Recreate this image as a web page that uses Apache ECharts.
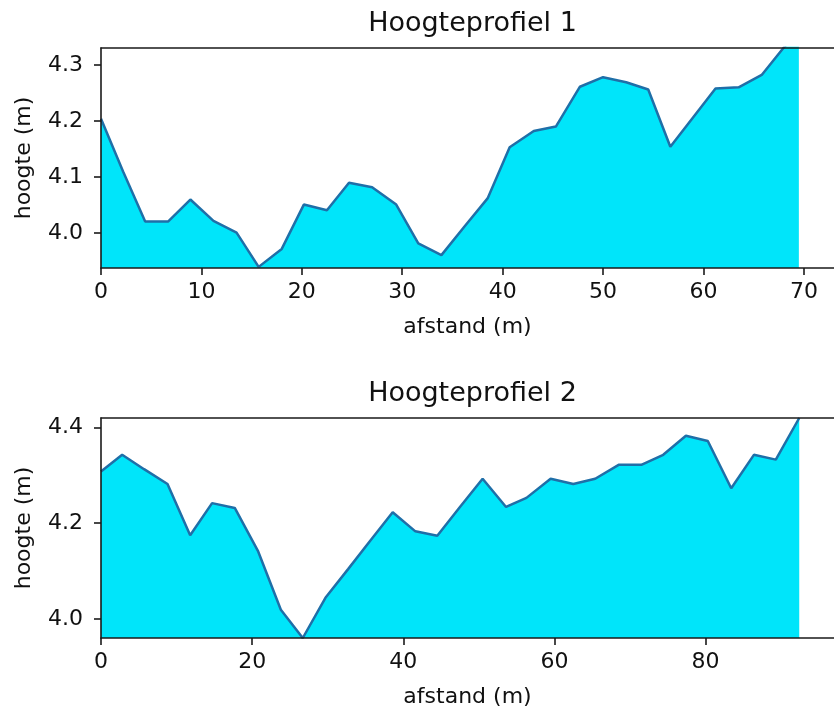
<!DOCTYPE html>
<html>
<head>
<meta charset="utf-8">
<title>Hoogteprofielen</title>
<script src="https://cdn.jsdelivr.net/npm/echarts@6/dist/echarts.min.js"></script>
<style>
  html, body { margin: 0; padding: 0; background: #fff; }
  #chart { width: 834px; height: 711px; }
</style>
</head>
<body>
<div id="chart"></div>
<script>
// profiel 1
var afstand1 = [0, 2.2, 4.4, 6.7, 8.9, 11.2, 13.5, 15.7, 18.0, 20.2, 22.5, 24.7, 27.0, 29.4, 31.6, 33.9,
  36.2, 38.5, 40.7, 43.1, 45.3, 47.7, 50.0, 52.3, 54.5, 56.7, 59.0, 61.2, 63.5, 65.8, 68.0, 69.5];
var hoogte1 = [4.204, 4.11, 4.021, 4.021, 4.06, 4.022, 4.001, 3.94, 3.972, 4.051, 4.041, 4.09, 4.082, 4.051, 3.982, 3.961,
  4.012, 4.062, 4.153, 4.182, 4.19, 4.261, 4.278, 4.269, 4.256, 4.154, 4.207, 4.258, 4.26, 4.282, 4.331, 4.36];

// profiel 2
var afstand2 = [0, 2.8, 5.7, 8.8, 11.8, 14.7, 17.7, 20.8, 23.8, 26.7, 29.7, 32.7, 35.6, 38.6, 41.6, 44.5,
  47.5, 50.5, 53.6, 56.3, 59.5, 62.5, 65.4, 68.5, 71.5, 74.4, 77.4, 80.3, 83.4, 86.4, 89.3, 92.4];
var hoogte2 = [4.308, 4.343, 4.313, 4.282, 4.175, 4.242, 4.232, 4.141, 4.019, 3.96, 4.044, 4.104, 4.163, 4.223, 4.183, 4.174,
  4.234, 4.293, 4.234, 4.253, 4.293, 4.282, 4.293, 4.322, 4.322, 4.343, 4.383, 4.372, 4.273, 4.343, 4.333, 4.42];

// tick labels
var xTicks1 = [0, 10, 20, 30, 40, 50, 60, 70];
var yTicks1 = [4.0, 4.1, 4.2, 4.3];
var xTicks2 = [0, 20, 40, 60, 80];
var yTicks2 = [4.0, 4.2, 4.4];

var titles = ['Hoogteprofiel 1', 'Hoogteprofiel 2'];

function pairs(xs, ys) {
  return xs.map(function (x, i) { return [x, ys[i]]; });
}

var FONT = 'DejaVu Sans';
var INK = '#111';
var SPINE = '#1a1a1a';

var chart = echarts.init(document.getElementById('chart'));

function bottomAxis(grid, max, ticks) {
  return {
    type: 'value', gridIndex: grid, position: 'bottom', min: 0, max: max, z: 5,
    name: 'afstand (m)', nameLocation: 'middle', nameGap: 48,
    nameTextStyle: { fontFamily: FONT, fontSize: 22, color: INK },
    axisLine: { show: true, onZero: false, lineStyle: { color: SPINE, width: 1.6 } },
    axisTick: { show: true, inside: false, length: 7, customValues: ticks, lineStyle: { color: SPINE, width: 1.6 } },
    axisLabel: { show: true, margin: 13, customValues: ticks, fontFamily: FONT, fontSize: 22, color: INK },
    splitLine: { show: false }
  };
}

function topAxis(grid, max) {
  return {
    type: 'value', gridIndex: grid, position: 'top', min: 0, max: max, z: 5,
    axisLine: { show: true, onZero: false, lineStyle: { color: SPINE, width: 1.6 } },
    axisTick: { show: false }, axisLabel: { show: false }, splitLine: { show: false }
  };
}

function leftAxis(grid, min, max, ticks) {
  return {
    type: 'value', gridIndex: grid, min: min, max: max, z: 5,
    name: 'hoogte (m)', nameLocation: 'middle', nameGap: 66,
    nameTextStyle: { fontFamily: FONT, fontSize: 22, color: INK },
    axisLine: { show: true, onZero: false, lineStyle: { color: SPINE, width: 1.6 } },
    axisTick: { show: true, inside: false, length: 7, customValues: ticks, lineStyle: { color: SPINE, width: 1.6 } },
    axisLabel: {
      show: true, margin: 18, customValues: ticks, fontFamily: FONT, fontSize: 22, color: INK,
      formatter: function (v) { return v.toFixed(1); }
    },
    splitLine: { show: false }
  };
}

function profile(idx, data) {
  return {
    type: 'line', xAxisIndex: idx, yAxisIndex: idx, data: data,
    showSymbol: false, clip: true, z: 2,
    lineStyle: { color: '#1f6fa8', width: 2.5 },
    areaStyle: { color: '#00e5fa', opacity: 1, origin: 'start' },
    emphasis: { disabled: true }
  };
}

chart.setOption({
  animation: false,
  backgroundColor: '#fff',
  textStyle: { fontFamily: FONT },
  grid: [
    { left: 101, top: 48, width: 743, height: 220 },
    { left: 101, top: 418, width: 743, height: 220 }
  ],
  xAxis: [
    bottomAxis(0, 73, xTicks1),
    bottomAxis(1, 97, xTicks2),
    topAxis(0, 73),
    topAxis(1, 97)
  ],
  yAxis: [
    leftAxis(0, 3.938, 4.33, yTicks1),
    leftAxis(1, 3.96, 4.42, yTicks2)
  ],
  graphic: titles.map(function (t, i) {
    return {
      type: 'text', x: 472.5, y: i === 0 ? 23.5 : 393.5, z: 10,
      style: { text: t, font: '27px "' + FONT + '"', fill: INK, align: 'center', verticalAlign: 'middle' }
    };
  }),
  series: [
    profile(0, pairs(afstand1, hoogte1)),
    profile(1, pairs(afstand2, hoogte2))
  ]
});
</script>
</body>
</html>
